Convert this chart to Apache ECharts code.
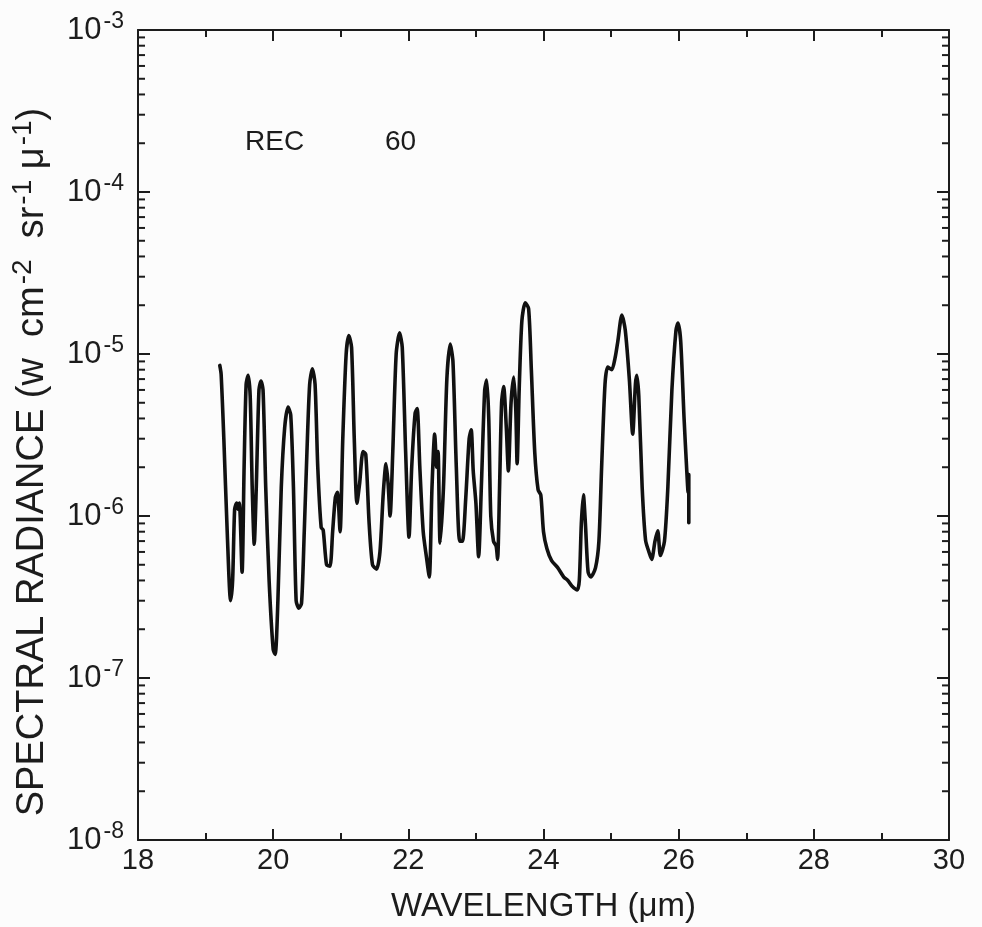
<!DOCTYPE html>
<html>
<head>
<meta charset="utf-8">
<script src="https://cdn.jsdelivr.net/npm/echarts@6/dist/echarts.min.js"></script>
<style>
html,body{margin:0;padding:0;background:#fcfcfc;}
#chart{width:982px;height:927px;}
</style>
</head>
<body>
<div id="chart"></div>
<script>
// Wavelength (µm) and spectral radiance (W cm^-2 sr^-1 µ^-1)
const wavelength = [
19.21,19.23,19.27,19.32,19.37,19.40,19.43,19.46,19.48,19.50,19.54,19.57,19.60,19.63,19.66,19.69,19.72,19.75,19.79,19.82,
19.85,19.89,19.94,20.00,20.03,20.07,20.12,20.17,20.22,20.26,20.30,20.34,20.38,20.42,20.46,20.50,20.54,20.58,20.62,20.66,
20.71,20.74,20.79,20.84,20.88,20.92,20.95,20.99,21.03,21.08,21.12,21.16,21.20,21.24,21.28,21.33,21.37,21.42,21.47,21.53,
21.58,21.63,21.67,21.70,21.73,21.77,21.82,21.87,21.91,21.96,22.01,22.05,22.10,22.13,22.17,22.22,22.27,22.31,22.35,22.39,
22.42,22.44,22.47,22.52,22.57,22.62,22.66,22.71,22.76,22.80,22.85,22.90,22.93,22.96,23.00,23.04,23.08,23.13,23.16,23.19,
23.22,23.26,23.30,23.32,23.35,23.38,23.41,23.45,23.48,23.52,23.56,23.59,23.61,23.64,23.68,23.73,23.78,23.82,23.87,23.92,
23.96,24.00,24.05,24.12,24.21,24.30,24.36,24.42,24.50,24.53,24.56,24.59,24.62,24.66,24.70,24.77,24.82,24.86,24.91,24.95,
25.01,25.06,25.10,25.16,25.21,25.27,25.32,25.36,25.38,25.41,25.46,25.51,25.56,25.60,25.65,25.69,25.73,25.79,25.84,25.90,
25.96,25.99,26.03,26.08,26.12,26.14,26.15,26.15
];
const radiance = [
8.5e-6,7.5e-6,3e-6,8e-7,3.0e-7,4.0e-7,1.1e-6,1.2e-6,1.1e-6,1.2e-6,4.5e-7,2e-6,6.5e-6,7.4e-6,5.5e-6,1.5e-6,6.7e-7,1.5e-6,6.0e-6,6.8e-6,
6.0e-6,1.5e-6,4e-7,1.5e-7,1.4e-7,3e-7,1.5e-6,3.5e-6,4.7e-6,4.2e-6,1.5e-6,3.0e-7,2.7e-7,2.9e-7,8e-7,2.5e-6,6.5e-6,8.1e-6,6.5e-6,2e-6,
8.5e-7,8.2e-7,5.0e-7,4.9e-7,8e-7,1.3e-6,1.4e-6,8e-7,3e-6,1.0e-5,1.3e-5,1.1e-5,3e-6,1.2e-6,1.6e-6,2.5e-6,2.4e-6,9e-7,5e-7,4.7e-7,
6e-7,1.4e-6,2.1e-6,1.6e-6,1.0e-6,2.5e-6,1.0e-5,1.35e-5,1.1e-5,2.5e-6,7.4e-7,2e-6,4.3e-6,4.6e-6,2e-6,8e-7,5.5e-7,4.2e-7,1.5e-6,3.2e-6,
2.0e-6,2.5e-6,6.8e-7,1.5e-6,7e-6,1.15e-5,9e-6,2e-6,7e-7,7e-7,1.3e-6,3.0e-6,3.4e-6,1.9e-6,1.2e-6,5.6e-7,1.5e-6,6.0e-6,6.9e-6,4e-6,
1e-6,7e-7,6.5e-7,5.4e-7,1.5e-6,5.0e-6,6.3e-6,3.5e-6,1.9e-6,5e-6,7.2e-6,4.5e-6,2.1e-6,6e-6,1.6e-5,2.07e-5,1.9e-5,8e-6,2.5e-6,1.45e-6,
1.35e-6,8e-7,6.3e-7,5.3e-7,4.8e-7,4.2e-7,4.0e-7,3.7e-7,3.5e-7,4e-7,9e-7,1.35e-6,9e-7,4.5e-7,4.2e-7,4.8e-7,7e-7,2e-6,6.5e-6,8.3e-6,
8.0e-6,9.5e-6,1.2e-5,1.74e-5,1.4e-5,7e-6,3.2e-6,6.5e-6,7.4e-6,5.5e-6,1.5e-6,7.1e-7,6e-7,5.4e-7,7e-7,8.1e-7,5.7e-7,7e-7,1.5e-6,6e-6,
1.4e-5,1.55e-5,1.2e-5,4e-6,1.9e-6,1.4e-6,1.8e-6,9.1e-7
];
const xTicks = [18,20,22,24,26,28,30];
const yDecades = [-8,-7,-6,-5,-4,-3];
const annotation = ['REC', '60'];

const FONT = 'Liberation Sans';
const INK = '#1c1c1c';
const X_MIN = 18, X_MAX = 30, Y_MIN = 1e-8, Y_MAX = 1e-3;

const series = wavelength.map((w, i) => [w, radiance[i]]);

// log minor tick positions (2..9 x 10^n)
const minorTicks = [];
for (let d = yDecades[0]; d < yDecades[yDecades.length - 1]; d++) {
  for (let m = 2; m <= 9; m++) minorTicks.push([X_MIN, m * Math.pow(10, d)]);
}

const chart = echarts.init(document.getElementById('chart'));
const supLabel = v => {
  const e = Math.round(Math.log10(v));
  return '{b|10}{s|' + e + '}';
};
const labelRich = {
  b: {fontFamily: FONT, fontSize: 31, color: INK, lineHeight: 36},
  s: {fontFamily: FONT, fontSize: 23, color: INK, lineHeight: 36, padding: [0, 0, 17, 2]}
};
const axisLine = {show: true, lineStyle: {color: INK, width: 2}};

chart.setOption({
  backgroundColor: '#fcfcfc',
  animation: false,
  grid: {left: 138, right: 33, top: 30, bottom: 87, containLabel: false, outerBoundsMode: 'none'},
  xAxis: [
    {
      type: 'value', min: X_MIN, max: X_MAX, interval: 2, position: 'bottom',
      axisLine: axisLine,
      axisTick: {show: true, inside: true, length: 11, lineStyle: {color: INK, width: 2}},
      minorTick: {show: true, splitNumber: 2, length: 7, lineStyle: {color: INK, width: 2}},
      splitLine: {show: false},
      axisLabel: {fontFamily: FONT, fontSize: 29, color: INK, margin: 6},
      name: 'WAVELENGTH (\u03bcm)', nameLocation: 'middle', nameGap: 50,
      nameTextStyle: {fontFamily: FONT, fontSize: 33, color: INK}
    },
    {
      type: 'value', min: X_MIN, max: X_MAX, interval: 2, position: 'top',
      axisLine: axisLine,
      axisTick: {show: true, inside: true, length: 11, lineStyle: {color: INK, width: 2}},
      minorTick: {show: true, splitNumber: 2, length: 7, lineStyle: {color: INK, width: 2}},
      splitLine: {show: false},
      axisLabel: {show: false}
    }
  ],
  yAxis: [
    {
      type: 'log', logBase: 10, min: Y_MIN, max: Y_MAX, position: 'left',
      axisLine: axisLine,
      axisTick: {show: true, inside: true, length: 12, lineStyle: {color: INK, width: 2}},
      splitLine: {show: false},
      axisLabel: {formatter: supLabel, rich: labelRich, margin: 14},
      name: '{n|SPECTRAL RADIANCE (w  cm}{s|-2}{n|  sr}{s|-1}{n| \u03bc}{s|-1}{n|)}',
      nameLocation: 'middle', nameGap: 76, nameRotate: 90,
      nameTextStyle: {
        padding: [0, 54, 0, 0],
        rich: {
          n: {fontFamily: FONT, fontSize: 38, color: INK, lineHeight: 42},
          s: {fontFamily: FONT, fontSize: 28, color: INK, lineHeight: 42, padding: [0, 0, 19, 2]}
        }
      }
    },
    {
      type: 'log', logBase: 10, min: Y_MIN, max: Y_MAX, position: 'right',
      axisLine: axisLine,
      axisTick: {show: true, inside: true, length: 12, lineStyle: {color: INK, width: 2}},
      splitLine: {show: false},
      axisLabel: {show: false}
    }
  ],
  graphic: [
    {type: 'text', left: 245, top: 128, style: {text: annotation[0], font: '28px "' + FONT + '"', fill: INK}},
    {type: 'text', left: 385, top: 128, style: {text: annotation[1], font: '28px "' + FONT + '"', fill: INK}}
  ],
  series: [
    {
      type: 'custom', xAxisIndex: 0, yAxisIndex: 0, silent: true, clip: false,
      data: minorTicks,
      renderItem: (params, api) => {
        const v = api.value(1);
        const pl = api.coord([X_MIN, v]);
        const pr = api.coord([X_MAX, v]);
        const st = {stroke: INK, lineWidth: 2};
        return {type: 'group', children: [
          {type: 'line', shape: {x1: pl[0], y1: pl[1], x2: pl[0] + 7, y2: pl[1]}, style: st},
          {type: 'line', shape: {x1: pr[0], y1: pr[1], x2: pr[0] - 7, y2: pr[1]}, style: st}
        ]};
      }
    },
    {
      type: 'line', xAxisIndex: 0, yAxisIndex: 0, data: series,
      symbol: 'none', smooth: 0.25,
      lineStyle: {color: '#111', width: 3.6, join: 'round', cap: 'round'}
    }
  ]
});
</script>
</body>
</html>
